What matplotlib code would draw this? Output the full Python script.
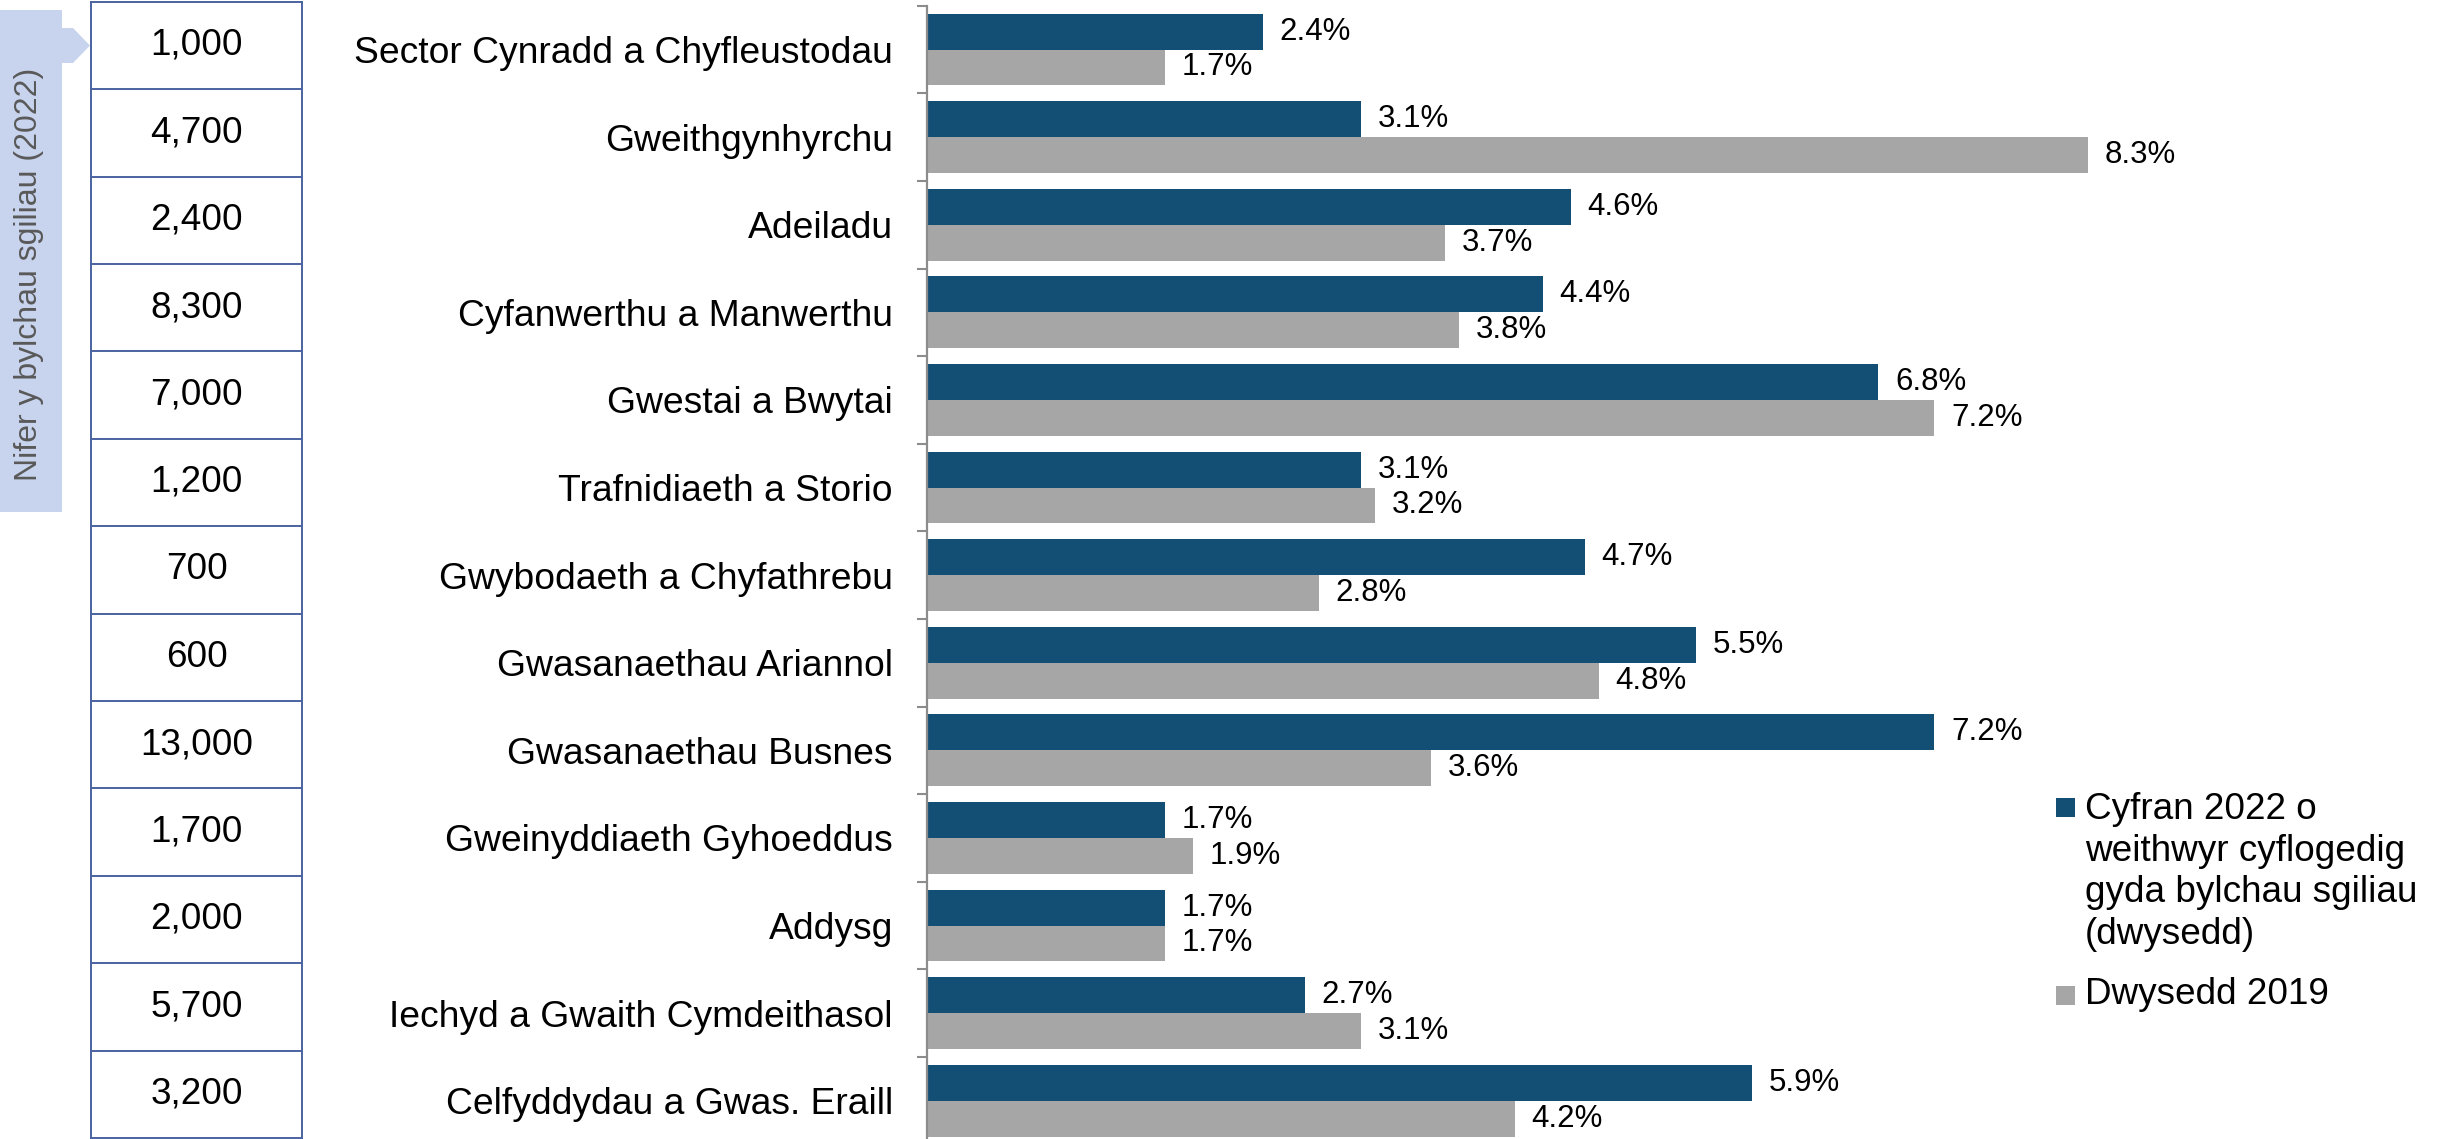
import numpy as np
import matplotlib
matplotlib.use("Agg")
import matplotlib.pyplot as plt
from matplotlib.patches import Rectangle, Polygon

plt.rcParams["font.family"] = ["Liberation Sans", "DejaVu Sans"]

SECTORS = [
    "Sector Cynradd a Chyfleustodau",
    "Gweithgynhyrchu",
    "Adeiladu",
    "Cyfanwerthu a Manwerthu",
    "Gwestai a Bwytai",
    "Trafnidiaeth a Storio",
    "Gwybodaeth a Chyfathrebu",
    "Gwasanaethau Ariannol",
    "Gwasanaethau Busnes",
    "Gweinyddiaeth Gyhoeddus",
    "Addysg",
    "Iechyd a Gwaith Cymdeithasol",
    "Celfyddydau a Gwas. Eraill",
]
SHARE_2022 = [2.4, 3.1, 4.6, 4.4, 6.8, 3.1, 4.7, 5.5, 7.2, 1.7, 1.7, 2.7, 5.9]
DENSITY_2019 = [1.7, 8.3, 3.7, 3.8, 7.2, 3.2, 2.8, 4.8, 3.6, 1.9, 1.7, 3.1, 4.2]
GAP_COUNTS = [1000, 4700, 2400, 8300, 7000, 1200, 700, 600, 13000, 1700, 2000, 5700, 3200]

LABEL_2022 = "Cyfran 2022 o\nweithwyr cyflogedig\ngyda bylchau sgiliau\n(dwysedd)"
LABEL_2019 = "Dwysedd 2019"
SIDE_TITLE = "Nifer y bylchau sgiliau (2022)"

DARK = "#134f74"
GREY = "#a6a6a6"
TABLE_LINE = "#4a62a0"
BANNER = "#c8d4ee"

W, H = 2445, 1139  # pixels at dpi 100


def fx(px):
    return px / W


def fy(py):
    # pixel from top -> figure fraction from bottom
    return 1 - py / H


fig = plt.figure(figsize=(W / 100, H / 100), dpi=100)

# decoration layer in pixel coordinates (banner, legend)
deco = fig.add_axes([0, 0, 1, 1], zorder=0)
deco.set_xlim(0, W)
deco.set_ylim(H, 0)
deco.axis("off")

# --- main bar chart ---
row_h = 87.6
top = 5.7
ax = fig.add_axes([fx(927), fy(top + 13 * row_h), fx(W - 927), 13 * row_h / H], zorder=2)
ax.patch.set_alpha(0)
y = np.arange(len(SECTORS))
bh = 0.41
b1 = ax.barh(y - bh / 2, SHARE_2022, height=bh, color=DARK)
b2 = ax.barh(y + bh / 2, DENSITY_2019, height=bh, color=GREY)
ax.bar_label(b1, labels=[f"{v:.1f}%" for v in SHARE_2022], padding=12, fontsize=22.5)
ax.bar_label(b2, labels=[f"{v:.1f}%" for v in DENSITY_2019], padding=12, fontsize=22.5)

ax.set_xlim(0, 10.85)
ax.set_ylim(len(SECTORS) - 0.5, -0.5)
ax.set_yticks(y)
ax.set_yticklabels(SECTORS, fontsize=26.8)
ax.set_yticks(np.arange(-0.5, len(SECTORS), 1), minor=True)
ax.tick_params(axis="y", which="major", length=0, pad=24.5)
ax.tick_params(axis="y", which="minor", length=7, width=1.5, color="#8c8c8c")
ax.set_xticks([])
for side in ["top", "right", "bottom"]:
    ax.spines[side].set_visible(False)
ax.spines["left"].set_color("#8c8c8c")
ax.spines["left"].set_linewidth(1.6)

# --- table of skill-gap counts ---
t_top, t_bot = 1.7, 1137.9
tab = fig.add_axes([fx(91), fy(t_bot), fx(302 - 91), (t_bot - t_top) / H], zorder=1)
tab.set_xlim(0, 1)
tab.set_ylim(len(SECTORS) - 0.5, -0.5)
tab.set_xticks([])
tab.set_yticks([])
for s in tab.spines.values():
    s.set_color(TABLE_LINE)
    s.set_linewidth(1.4)
tab.hlines(np.arange(0.5, len(SECTORS) - 1, 1), 0, 1, color=TABLE_LINE, linewidth=1.4)
for i, n in enumerate(GAP_COUNTS):
    tab.text(0.5, i, f"{n:,}", ha="center", va="center", fontsize=26.6)

# --- side banner with arrow ---
deco.add_patch(Rectangle((0, 10), 62, 502, color=BANNER, linewidth=0))
deco.add_patch(Polygon([(62, 28), (73, 28), (90, 45.5), (73, 63), (62, 63)],
                       closed=True, color=BANNER, linewidth=0))
deco.text(29, 274, SIDE_TITLE, rotation=90, ha="center", va="center",
          fontsize=23, color="#595959")

# --- legend ---
deco.add_patch(Rectangle((2056, 797.5), 19, 19, color=DARK, linewidth=0))
deco.add_patch(Rectangle((2056, 985.5), 19, 19, color=GREY, linewidth=0))
deco.text(2085, 792, LABEL_2022, ha="left", va="top", fontsize=26.6, linespacing=1.25)
deco.text(2085, 995, LABEL_2019, ha="left", va="center", fontsize=26.6)

fig.savefig("out.png", dpi=100)
